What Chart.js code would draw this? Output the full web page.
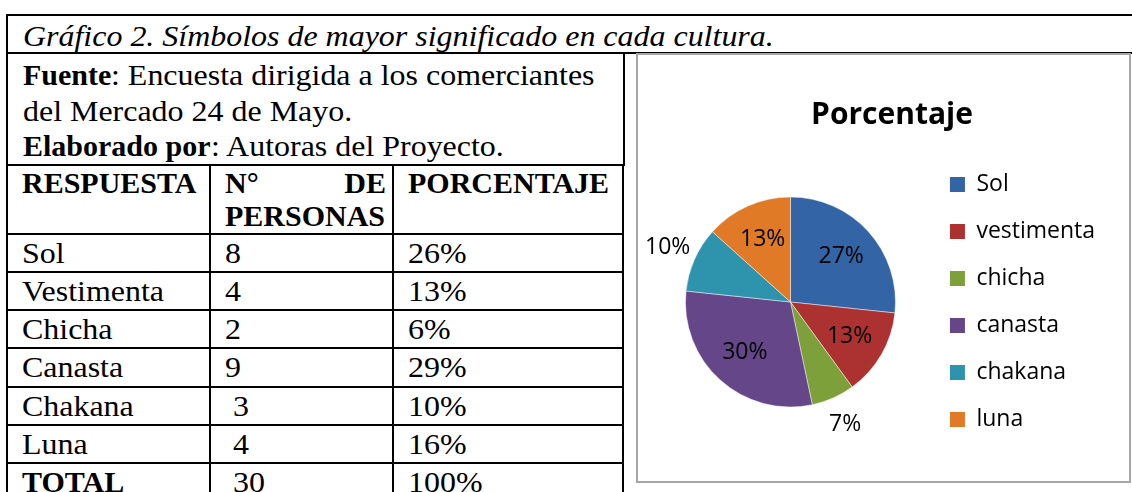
<!DOCTYPE html>
<html>
<head>
<meta charset="utf-8">
<script src="https://cdn.jsdelivr.net/npm/chart.js@4"></script>
<style>
  html, body { margin: 0; padding: 0; background: #fff; }
  body { width: 1132px; height: 492px; overflow: hidden; position: relative; font-family: "Liberation Serif", "Times New Roman", serif; color: #000; }
  .r { display: inline-block; transform: scaleX(1.065); transform-origin: 0 50%; white-space: pre; }
  .caption { position: absolute; left: 6px; top: 14px; width: 1140px; height: 40px; box-sizing: border-box;
    border: 2px solid #000; border-right: none; font-style: italic; font-size: 30px; line-height: 36px; padding: 2px 0 0 15px; white-space: nowrap; }
  .source { position: absolute; left: 6px; top: 53px; width: 619px; height: 113px; box-sizing: border-box;
    border-left: 2px solid #000; border-right: 2px solid #000; font-size: 30px; line-height: 35.5px; padding: 4px 0 0 15px; white-space: nowrap; }
  table.data { position: absolute; left: 6px; top: 164px; border-collapse: collapse; font-size: 30px; table-layout: fixed; }
  table.data td, table.data th { border: 2px solid #000; padding: 0 6px 0 14px; text-align: left; vertical-align: top; white-space: nowrap; }
  table.data th { font-weight: bold; line-height: 33px; height: 66.5px; white-space: normal; }
  table.data td { line-height: 36px; height: 36.3px; }
  .just { text-align: justify !important; }
  .box { position: absolute; left: 636px; top: 53px; width: 495px; height: 430px; box-sizing: border-box; border: 2px solid #a6a6a6; }
  .box canvas { display: block; }
</style>
</head>
<body>
<div class="caption"><span class="r">Gráfico 2. Símbolos de mayor significado en cada cultura.</span></div>
<div class="source">
  <div><b>Fuente</b><span class="r">: Encuesta dirigida a los comerciantes</span></div>
  <div><span class="r">del Mercado 24 de Mayo.</span></div>
  <div><b>Elaborado por</b><span class="r">: Autoras del Proyecto.</span></div>
</div>
<table class="data" id="tbl">
  <colgroup><col style="width:203px"><col style="width:183px"><col style="width:230px"></colgroup>
</table>
<div class="box"><div style="width:491px;height:426px"><canvas id="chart"></canvas></div></div>

<script>
// table rows (as in the document)
const respuestas = ['Sol', 'Vestimenta', 'Chicha', 'Canasta', 'Chakana', 'Luna'];
const personas = ['8', '4', '2', '9', ' 3', ' 4'];
const porcentajes = ['26%', '13%', '6%', '29%', '10%', '16%'];

// pie data
const labels = ['Sol', 'vestimenta', 'chicha', 'canasta', 'chakana', 'luna'];
const values = [8, 4, 2, 9, 3, 4];
const outsideLabels = ['chicha', 'chakana'];

const lightColors = ['#3b72b8', '#bd3c39', '#8cb142', '#74549c', '#36a5c1', '#f08b2e'];
const darkColors  = ['#29518c', '#91281f', '#6b8a2e', '#513870', '#257d94', '#c6641b'];
const flatColors  = ['#3364a6', '#ab3230', '#7ea03a', '#654789', '#2e93ad', '#e07a26'];

// build the html table
const tbl = document.getElementById('tbl');
let html = '<tr><th>RESPUESTA</th><th class="just">N°&nbsp; DE PERSONAS</th><th>PORCENTAJE</th></tr>';
respuestas.forEach((r, i) => {
    html += '<tr><td><span class="r">' + r + '</span></td><td><span class="r">' + personas[i] +
            '</span></td><td><span class="r">' + porcentajes[i] + '</span></td></tr>';
});
html += '<tr><td><b>TOTAL</b></td><td><span class="r"> 30</span></td><td><span class="r">100%</span></td></tr>';
tbl.insertAdjacentHTML('beforeend', html);

const chartFont = '"Open Sans", "Noto Sans", sans-serif';

// percentage labels on the slices
const sliceLabels = {
    id: 'sliceLabels',
    afterDatasetsDraw(chart) {
        const ctx = chart.ctx;
        const meta = chart.getDatasetMeta(0);
        const total = values.reduce((a, b) => a + b, 0);
        ctx.save();
        ctx.font = '23px ' + chartFont;
        ctx.fillStyle = '#000';
        ctx.textAlign = 'center';
        ctx.textBaseline = 'middle';
        meta.data.forEach((arc, i) => {
            const p = arc.getProps(['x', 'y', 'startAngle', 'endAngle', 'outerRadius'], true);
            const mid = (p.startAngle + p.endAngle) / 2;
            const d = outsideLabels.includes(labels[i]) ? p.outerRadius * 1.28 : p.outerRadius * 0.65;
            const txt = Math.round(values[i] / total * 100) + '%';
            ctx.fillText(txt, p.x + Math.cos(mid) * d, p.y + Math.sin(mid) * d);
        });
        ctx.restore();
    }
};

function sliceFill(c) {
    const chart = c.chart;
    const i = c.dataIndex;
    const arc = chart.getDatasetMeta(0).data[i];
    if (!arc || !arc.outerRadius) return flatColors[i];
    const g = chart.ctx.createLinearGradient(0, arc.y - arc.outerRadius, 0, arc.y + arc.outerRadius);
    g.addColorStop(0, lightColors[i]);
    g.addColorStop(1, darkColors[i]);
    return g;
}

new Chart(document.getElementById('chart'), {
    type: 'pie',
    data: {
        labels: labels,
        datasets: [{
            data: values,
            backgroundColor: sliceFill,
            borderColor: 'rgba(255,255,255,0.45)',
            borderWidth: 1,
            radius: 105
        }]
    },
    options: {
        responsive: true,
        maintainAspectRatio: false,
        animation: false,
        layout: { padding: { left: 17, right: 0, top: 0, bottom: 22 } },
        plugins: {
            title: {
                display: true,
                text: 'Porcentaje',
                color: '#000',
                font: { family: chartFont, size: 30, weight: 'bold' },
                padding: { top: 42, bottom: 12 }
            },
            legend: {
                position: 'right',
                fullSize: false,
                labels: {
                    color: '#000',
                    font: { family: chartFont, size: 23 },
                    boxWidth: 15,
                    boxHeight: 15,
                    padding: 24,
                    generateLabels(chart) {
                        const items = Chart.overrides.pie.plugins.legend.labels.generateLabels(chart);
                        items.forEach((it, i) => {
                            it.fillStyle = flatColors[i];
                            it.strokeStyle = flatColors[i];
                            it.lineWidth = 0;
                            // a little trailing room so the legend column is as wide as in the original
                            it.text = it.text + '\u00a0\u00a0\u00a0\u00a0';
                        });
                        return items;
                    }
                }
            },
            tooltip: { enabled: false }
        }
    },
    plugins: [sliceLabels]
});
</script>
</body>
</html>
